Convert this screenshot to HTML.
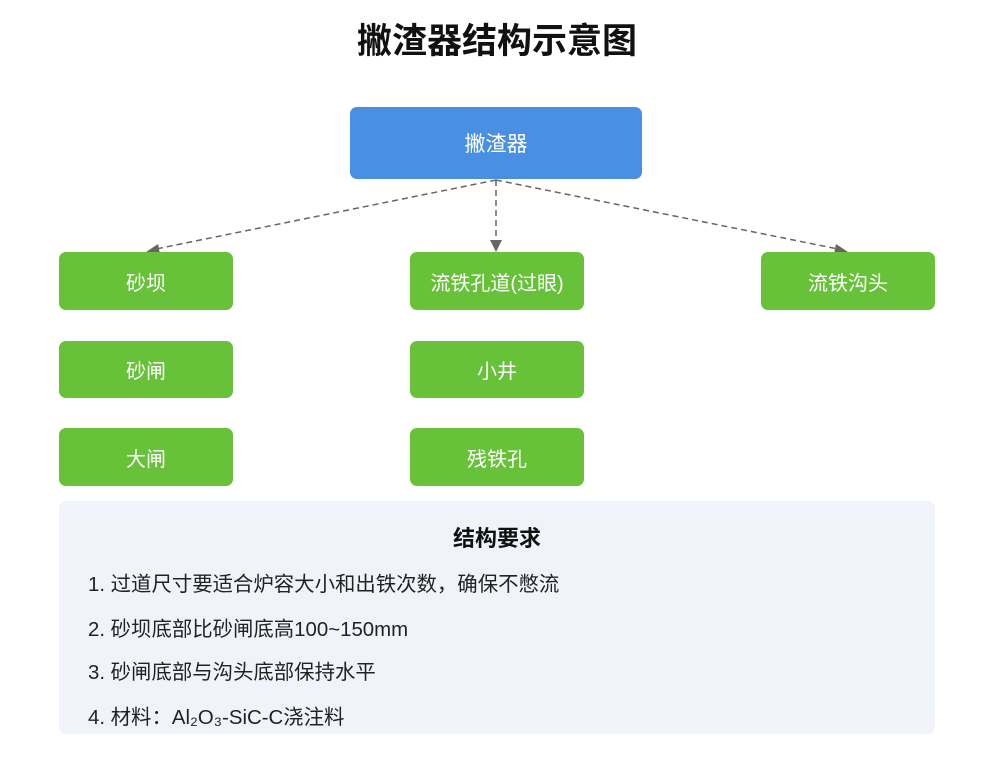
<!DOCTYPE html>
<html><head><meta charset="utf-8"><style>
body{margin:0;width:1000px;height:758px;background:#fff;font-family:"Liberation Sans","Noto Sans CJK SC",sans-serif;position:relative;overflow:hidden}
.t{position:absolute;left:-3px;width:1000px;top:13px;text-align:center;font-size:35px;font-weight:bold;color:#111}
.b{position:absolute;display:flex;align-items:center;justify-content:center;color:#fff;font-size:20px;border-radius:7px}
.g{background:#67c23a;width:174px;height:58px}
.info{position:absolute;left:59px;top:501px;width:876px;height:233px;background:#f0f4fa;border-radius:7px}
.h{position:absolute;left:0;width:876px;top:20px;text-align:center;font-size:22px;font-weight:bold;color:#111}
.li{position:absolute;left:29px;font-size:20.4px;color:#222}
</style></head><body>
<div class="t">撇渣器结构示意图</div>
<div class="b" style="left:350px;top:107px;width:292px;height:72px;background:#4a90e2;font-size:21px">撇渣器</div>
<svg style="position:absolute;left:0;top:0" width="1000" height="758">
<g stroke="#666" stroke-width="1.5" stroke-dasharray="6,4" fill="none">
<line x1="496" y1="180" x2="156" y2="249"/>
<line x1="496" y1="180" x2="496" y2="242"/>
<line x1="496" y1="180" x2="838" y2="249"/>
</g>
<g fill="#666">
<polygon points="146,252 158,244 160,254"/>
<polygon points="496,252 490,240 502,240"/>
<polygon points="848,252 834,254 836,244"/>
</g>
</svg>
<div class="b g" style="left:59px;top:252px">砂坝</div>
<div class="b g" style="left:410px;top:252px">流铁孔道(过眼)</div>
<div class="b g" style="left:761px;top:252px">流铁沟头</div>
<div class="b g" style="left:59px;top:341px;height:57px">砂闸</div>
<div class="b g" style="left:410px;top:341px;height:57px">小井</div>
<div class="b g" style="left:59px;top:428px">大闸</div>
<div class="b g" style="left:410px;top:428px">残铁孔</div>
<div class="info">
<div class="h">结构要求</div>
<div class="li" style="top:66px">1. 过道尺寸要适合炉容大小和出铁次数，确保不憋流</div>
<div class="li" style="top:111px">2. 砂坝底部比砂闸底高100~150mm</div>
<div class="li" style="top:154px">3. 砂闸底部与沟头底部保持水平</div>
<div class="li" style="top:199px">4. 材料：Al₂O₃-SiC-C浇注料</div>
</div>
</body></html>
